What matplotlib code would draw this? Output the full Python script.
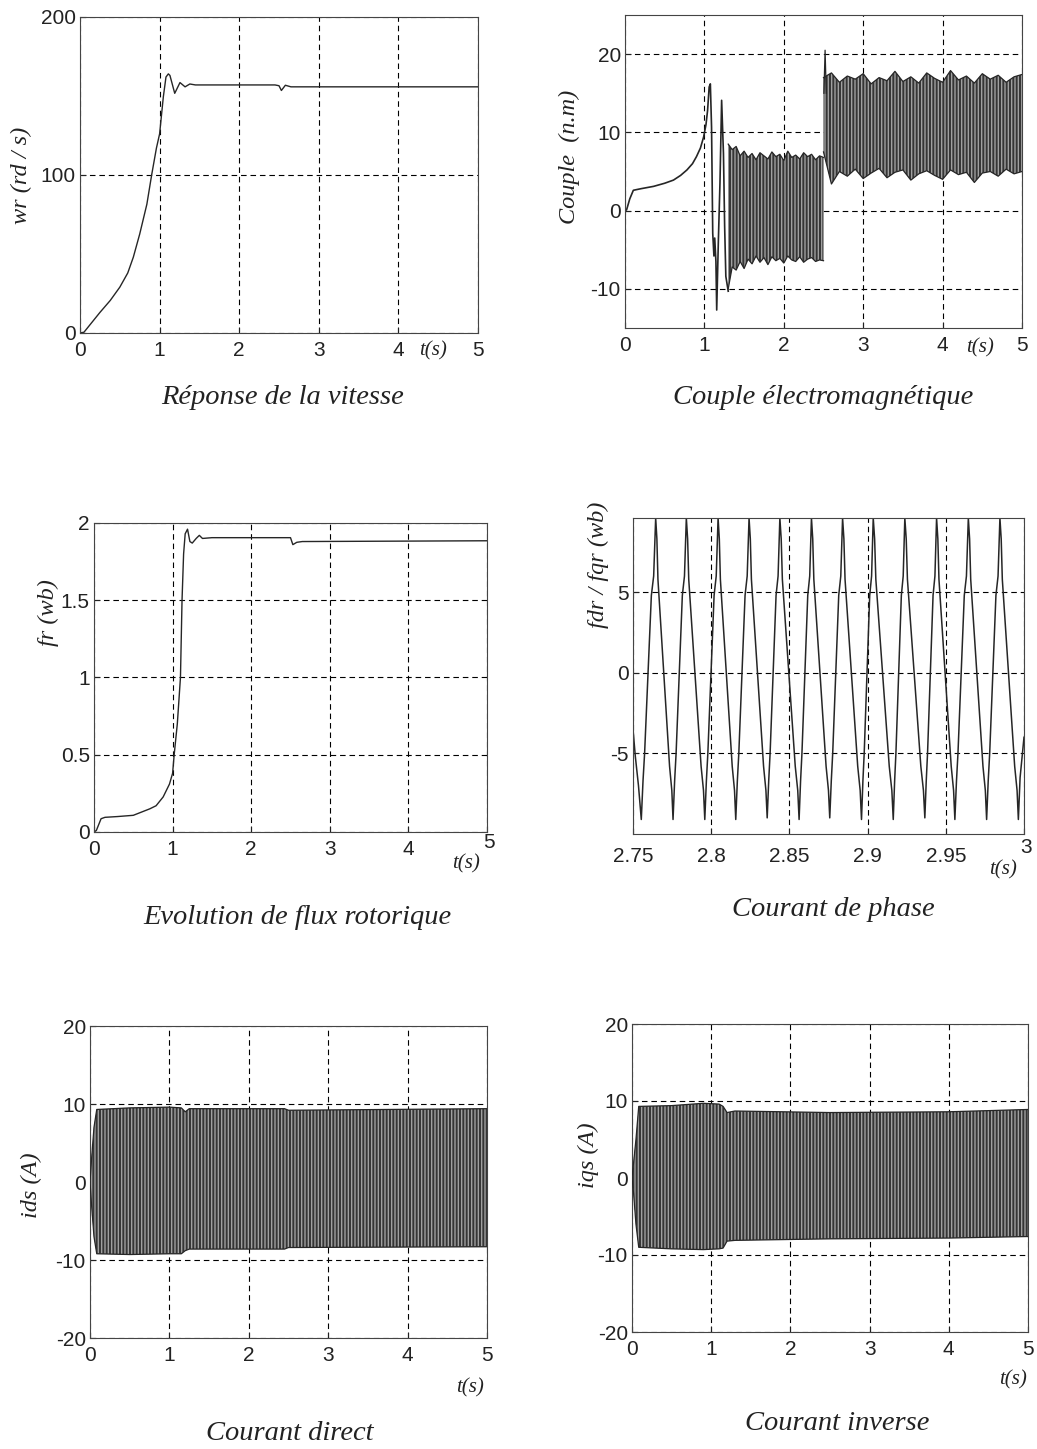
import numpy as np
import matplotlib.pyplot as plt

plt.rcParams['font.family'] = ['Liberation Sans', 'DejaVu Sans']
plt.rcParams['hatch.linewidth'] = 1.0

# --- vitesse (rd/s)
wr_t = [0, 0.05, 0.17, 0.25, 0.38, 0.5, 0.6, 0.67, 0.75, 0.84, 0.9, 0.96, 1.0, 1.047, 1.08, 1.11,
        1.13, 1.19, 1.256, 1.32, 1.38, 1.45, 2.45, 2.5, 2.53, 2.58, 2.65, 5.0]
wr_v = [0, 0.5, 8, 13, 20.6, 29, 38, 48, 62.6, 81.5, 100, 117, 126, 149.5, 162, 164,
        163, 151.7, 158.5, 155.8, 157.6, 157, 157, 156.5, 153.5, 156.8, 155.8, 155.8]

# --- couple (n.m): transitoire puis deux bandes d'ondulation
couple_t = [0.0, 0.02, 0.06, 0.105, 0.2, 0.36, 0.5, 0.61, 0.7, 0.78, 0.85, 0.9, 0.95, 0.99, 1.02,
            1.04, 1.06, 1.075, 1.09, 1.105, 1.12, 1.13, 1.145, 1.155, 1.175, 1.196, 1.217, 1.24,
            1.255, 1.27, 1.30]
couple_v = [0.0, 0.1, 1.5, 2.6, 2.8, 3.1, 3.5, 3.9, 4.5, 5.2, 6.0, 6.9, 8.0, 9.4, 11.0,
            12.8, 15.8, 16.2, 10.7, -2.9, -5.8, -3.5, -6.5, -12.7, -4.2, 3.5, 14.1, 7.3,
            -2.0, -8.4, -10.3]
band1_t = np.linspace(1.30, 2.50, 25)
band1_up = [8.5, 7.8, 8.2, 7.0, 7.6, 6.8, 7.3, 6.5, 7.4, 7.0, 6.6, 7.5, 6.9, 7.2, 6.4, 7.6, 6.8,
            7.1, 6.6, 7.4, 6.9, 7.2, 6.5, 7.0, 6.8]
band1_lo = [-10.0, -7.2, -7.6, -6.5, -7.4, -6.2, -6.8, -5.8, -6.6, -6.0, -6.9, -5.9, -6.4, -6.1,
            -6.7, -5.8, -6.3, -6.5, -5.9, -6.6, -6.2, -6.0, -6.5, -6.3, -6.4]
band2_t = np.linspace(2.50, 5.00, 26)
band2_up = [17.0, 17.6, 16.4, 17.2, 16.8, 17.5, 16.2, 17.0, 16.6, 17.8, 16.5, 17.1, 16.3, 17.6,
            16.9, 16.4, 17.9, 16.7, 17.2, 16.3, 17.5, 16.8, 17.3, 16.4, 17.1, 17.4]
band2_lo = [7.5, 3.4, 5.0, 4.4, 5.3, 4.1, 4.8, 5.4, 4.2, 4.9, 5.2, 3.9, 4.7, 5.1, 4.5, 4.0, 5.2,
            4.6, 4.9, 3.6, 4.8, 5.0, 4.4, 5.3, 4.7, 5.0]
spike_t = [2.505, 2.52, 2.535]
spike_v = [15.0, 20.5, 15.0]

# --- flux rotorique (wb)
fr_t = [0, 0.03, 0.09, 0.14, 0.3, 0.5, 0.71, 0.79, 0.88, 0.96, 1.0, 1.02, 1.06, 1.10, 1.12,
        1.14, 1.16, 1.19, 1.22, 1.25, 1.30, 1.34, 1.38, 1.5, 2.5, 2.53, 2.58, 2.65, 5.0]
fr_v = [0, 0.01, 0.086, 0.095, 0.1, 0.108, 0.15, 0.17, 0.227, 0.31, 0.38, 0.5, 0.7, 1.0, 1.5,
        1.8, 1.93, 1.96, 1.88, 1.87, 1.90, 1.92, 1.90, 1.905, 1.905, 1.86, 1.875, 1.88, 1.885]

# --- courant de phase: sommets
phase_top_t = [2.7645, 2.7841, 2.8044, 2.8242, 2.8439, 2.8641, 2.8840, 2.9036, 2.9238, 2.9441,
               2.9644, 2.9846]
phase_top_v = [9.6, 9.6, 9.6, 9.6, 9.6, 9.6, 9.6, 9.6, 9.6, 9.6, 9.6, 9.6]
phase_bot_t = [2.7553, 2.7756, 2.7959, 2.8157, 2.8358, 2.8562, 2.8758, 2.8961, 2.9164, 2.9366,
               2.9558, 2.9761, 2.9964]
phase_bot_v = [-9.1, -9.1, -9.1, -9.1, -9.0, -9.1, -9.0, -9.1, -9.1, -9.0, -9.1, -9.1, -9.1]
rise_frac, rise_lvl = [0.12, 0.23, 0.70, 0.86], [-6.7, -5.0, 4.8, 6.0]
fall_frac, fall_lvl = [0.07, 0.13, 0.80, 0.93], [8.3, 5.8, -5.8, -7.3]
phase_lead_t, phase_lead_v = [2.75, 2.7515, 2.7535], [-3.5, -5.2, -7.0]
phase_tail_t, phase_tail_v = [2.9975, 3.0], [-6.5, -4.0]

# --- courants ids / iqs: enveloppes des bandes
ids_t = [0.0, 0.02, 0.05, 0.085, 0.5, 1.0, 1.15, 1.2, 1.25, 2.45, 2.5, 5.0]
ids_up = [0.0, 3.0, 7.0, 9.3, 9.5, 9.6, 9.5, 9.0, 9.4, 9.4, 9.2, 9.4]
ids_lo = [0.0, -3.0, -7.0, -9.2, -9.3, -9.2, -9.2, -8.8, -8.6, -8.6, -8.4, -8.3]
iqs_t = [0.0, 0.02, 0.05, 0.085, 0.5, 0.9, 1.1, 1.15, 1.2, 1.3, 2.5, 4.0, 5.0]
iqs_up = [0.0, 2.0, 5.0, 9.3, 9.4, 9.7, 9.6, 9.3, 8.5, 8.7, 8.5, 8.6, 8.9]
iqs_lo = [0.0, -2.0, -6.0, -9.0, -9.2, -9.3, -9.2, -9.1, -8.2, -8.1, -7.9, -7.8, -7.6]

W, H = 1037, 1449
fig = plt.figure(figsize=(W / 100, H / 100), dpi=100)
serif = dict(family=['Liberation Serif', 'DejaVu Serif'], style='italic', color='#222')
LINE = '#262626'
TITLE = 20.5
YLAB = 17.5
TICK = 15


def box(l, t, r, b):
    return fig.add_axes([l / W, 1 - b / H, (r - l) / W, (b - t) / H])


def ftext(x, y, s, size=15, **kw):
    fig.text(x / W, 1 - y / H, s, fontsize=size, ha='center', va='center', **serif, **kw)


def plain(x, y, s):
    fig.text(x / W, 1 - y / H, s, fontsize=TICK, ha='center', va='center', color='#222')


def style(ax, xlim, ylim, xticks, xlabels, yticks, ylabels):
    ax.set_xlim(xlim)
    ax.set_ylim(ylim)
    ax.set_xticks(xticks, xlabels)
    ax.set_yticks(yticks, ylabels)
    ax.grid(True, color='black', linestyle=(0, (5, 3.5)), linewidth=0.8)
    ax.set_axisbelow(True)
    ax.tick_params(direction='in', length=4, labelsize=TICK, colors='#222')
    ax.tick_params(axis='x', pad=6)
    ax.tick_params(axis='y', pad=3)
    for s in ax.spines.values():
        s.set_color('#444')
        s.set_linewidth(0.8)


def band(ax, t, up, lo):
    ax.fill_between(t, lo, up, facecolor='#353535', edgecolor='#a0a0a0', hatch='|||||',
                    linewidth=0, zorder=2)
    ax.plot(t, up, color=LINE, lw=0.9, zorder=3)
    ax.plot(t, lo, color=LINE, lw=0.9, zorder=3)


t5 = [0, 1, 2, 3, 4, 5]
t5l = ['0', '1', '2', '3', '4', '5']

# 1. vitesse
ax1 = box(80, 17, 478, 333)
ax1.plot(wr_t, wr_v, color=LINE, lw=1.0)
style(ax1, (0, 5), (0, 200), t5, t5l, [0, 100, 200], ['0', '100', '200'])
ftext(21, 175, 'wr (rd / s)', size=YLAB, rotation=90)
ftext(433, 351, 't(s)')
ftext(283, 397, 'Réponse de la vitesse', size=TITLE)

# 2. couple
ax2 = box(625, 15, 1022, 328)
ax2.plot(couple_t, couple_v, color=LINE, lw=1.2)
band(ax2, band1_t, band1_up, band1_lo)
band(ax2, band2_t, band2_up, band2_lo)
ax2.plot(spike_t, spike_v, color=LINE, lw=0.9)
style(ax2, (0, 5), (-15, 25), t5, t5l, [-10, 0, 10, 20], ['-10', '0', '10', '20'])
ftext(569, 157, 'Couple  (n.m)', size=YLAB, rotation=90)
ftext(980, 348, 't(s)')
ftext(823, 397, 'Couple électromagnétique', size=TITLE)

# 3. flux
ax3 = box(94, 523, 487, 832)
ax3.plot(fr_t, fr_v, color=LINE, lw=1.0)
style(ax3, (0, 5), (0, 2), t5, t5l[:5] + [''], [0, 0.5, 1, 1.5, 2],
      ['0', '0.5', '1', '1.5', '2'])
plain(489, 842, '5')
ftext(48, 613, 'fr (wb)', size=YLAB, rotation=90)
ftext(466, 864, 't(s)')
ftext(297, 918, 'Evolution de flux rotorique', size=TITLE)

# 4. courant de phase
pt, pv = list(phase_lead_t), list(phase_lead_v)
for i in range(len(phase_top_t)):
    tb, tt, tb2 = phase_bot_t[i], phase_top_t[i], phase_bot_t[i + 1]
    pt.append(tb)
    pv.append(phase_bot_v[i])
    for f, lv in zip(rise_frac, rise_lvl):
        pt.append(tb + f * (tt - tb))
        pv.append(lv)
    pt.append(tt)
    pv.append(phase_top_v[i])
    for f, lv in zip(fall_frac, fall_lvl):
        pt.append(tt + f * (tb2 - tt))
        pv.append(lv)
pt.append(phase_bot_t[-1])
pv.append(phase_bot_v[-1])
pt += phase_tail_t
pv += phase_tail_v

ax4 = box(633, 518, 1024, 834)
ax4.plot(pt, pv, color=LINE, lw=1.1)
style(ax4, (2.75, 3.0), (-10, 9.6), [2.75, 2.8, 2.85, 2.9, 2.95, 3.0],
      ['2.75', '2.8', '2.85', '2.9', '2.95', ''], [-5, 0, 5], ['-5', '0', '5'])
ax4.tick_params(axis='x', pad=9)
plain(1026, 847, '3')
ftext(598, 565, 'fdr / fqr (wb)', size=YLAB, rotation=90)
ftext(1003, 870, 't(s)')
ftext(833, 910, 'Courant de phase', size=TITLE)

# 5. courant direct
ax5 = box(90, 1026, 487, 1338)
band(ax5, ids_t, ids_up, ids_lo)
style(ax5, (0, 5), (-20, 20), t5, t5l, [-20, -10, 0, 10, 20], ['-20', '-10', '0', '10', '20'])
ftext(31, 1185, 'ids (A)', size=YLAB, rotation=90)
ftext(470, 1388, 't(s)')
ftext(290, 1433, 'Courant direct', size=TITLE)

# 6. courant inverse
ax6 = box(632, 1024, 1028, 1332)
band(ax6, iqs_t, iqs_up, iqs_lo)
style(ax6, (0, 5), (-20, 20), t5, t5l, [-20, -10, 0, 10, 20], ['-20', '-10', '0', '10', '20'])
ftext(588, 1155, 'iqs (A)', size=YLAB, rotation=90)
ftext(1013, 1380, 't(s)')
ftext(837, 1423, 'Courant inverse', size=TITLE)

fig.savefig('out.png', dpi=100, facecolor='white')
